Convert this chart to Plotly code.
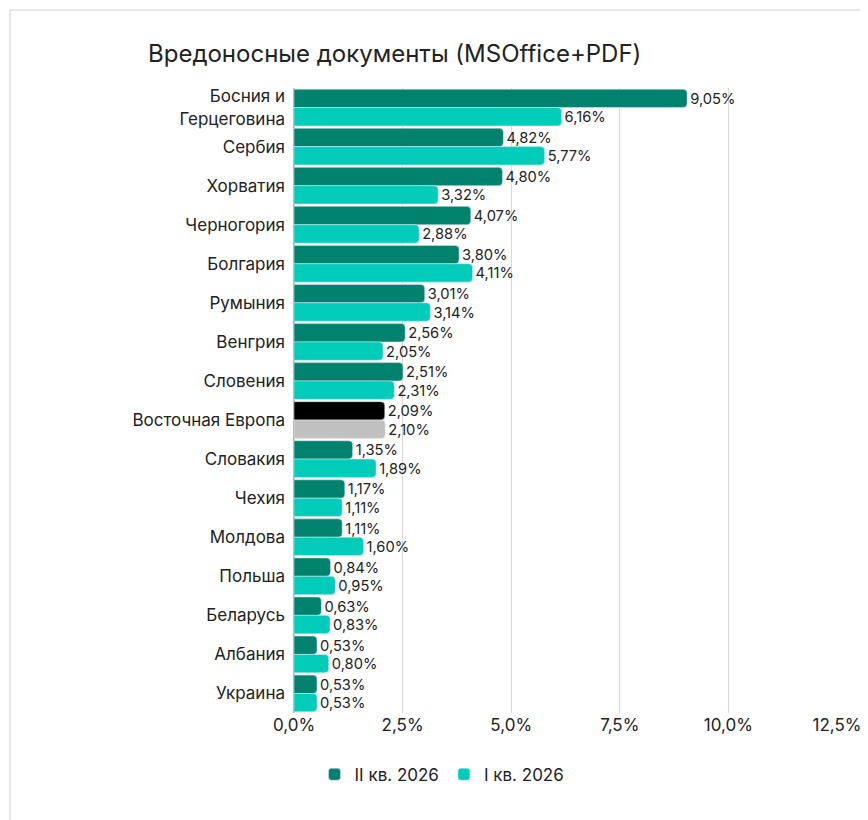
import plotly.graph_objects as go

countries = ['Босния и<br>Герцеговина', 'Сербия', 'Хорватия', 'Черногория', 'Болгария',
             'Румыния', 'Венгрия', 'Словения', 'Восточная Европа', 'Словакия', 'Чехия',
             'Молдова', 'Польша', 'Беларусь', 'Албания', 'Украина']
q2_2026 = [9.05, 4.82, 4.80, 4.07, 3.80, 3.01, 2.56, 2.51, 2.09, 1.35, 1.17, 1.11, 0.84, 0.63, 0.53, 0.53]
q1_2026 = [6.16, 5.77, 3.32, 2.88, 4.11, 3.14, 2.05, 2.31, 2.10, 1.89, 1.11, 1.60, 0.95, 0.83, 0.80, 0.53]

dark = '#00826e'
light = '#00ccb9'


def fmt(v):
    return f'{v:.2f}%'.replace('.', ',')


def colors(base, special):
    return [special if c == 'Восточная Европа' else base for c in countries]


fig = go.Figure()
fig.add_trace(go.Bar(y=countries, x=q2_2026, orientation='h', name='II кв. 2026',
                     marker=dict(color=colors(dark, '#000000'), cornerradius=4),
                     text=[fmt(v) for v in q2_2026], textposition='outside',
                     textfont=dict(size=16, color='#222'), cliponaxis=False))
fig.add_trace(go.Bar(y=countries, x=q1_2026, orientation='h', name='I кв. 2026',
                     marker=dict(color=colors(light, '#c0c0c0'), cornerradius=4),
                     text=[fmt(v) for v in q1_2026], textposition='outside',
                     textfont=dict(size=16, color='#222'), cliponaxis=False))

fig.update_layout(
    width=868, height=820,
    font=dict(family='Inter, Noto Sans, sans-serif', size=17, color='#222'),
    title=dict(text='Вредоносные документы (MSOffice+PDF)', x=140/868, xanchor='left',
               y=0.955, font=dict(size=24, color='#222')),
    separators=', ',
    barmode='group', bargap=0.06, bargroupgap=0,
    plot_bgcolor='white', paper_bgcolor='white',
    margin=dict(l=286, r=39, t=80, b=115, autoexpand=False),
    legend=dict(orientation='h', xref='container', x=0.5, xanchor='center',
                yref='container', y=0.065, yanchor='middle', font=dict(size=17)),
    xaxis=dict(range=[0, 12.5], dtick=2.5, tickformat='.1f', ticksuffix='%',
               showgrid=True, gridcolor='#d9d9d9', zeroline=True, zerolinecolor='#bbb',
               ticks='', tickfont=dict(size=17), automargin=False),
    yaxis=dict(autorange='reversed', ticks='', ticklen=0, tickfont=dict(size=17),
               automargin=False, ticklabelstandoff=8),
    shapes=[dict(type='rect', xref='paper', yref='paper', x0=-284/543, x1=1+37/543,
                 y0=-113/625, y1=1+78/625, line=dict(color='#d0d0d0', width=1))],
)

fig.write_html('out.html')
